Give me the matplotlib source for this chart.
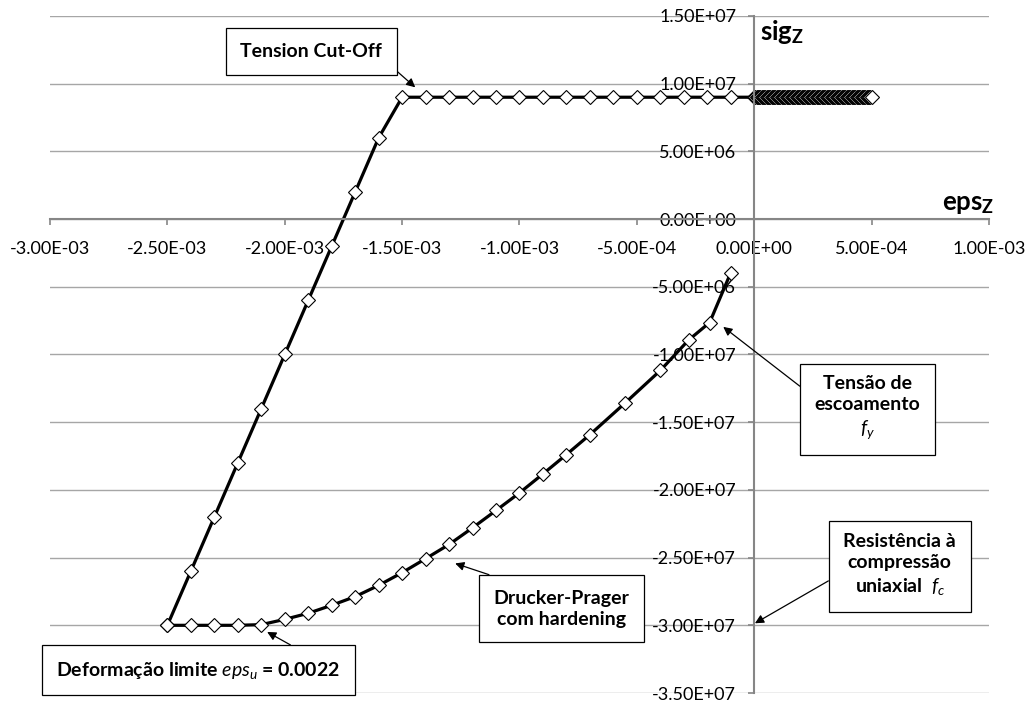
import matplotlib.pyplot as plt
import numpy as np

plt.rcParams['font.family'] = ['Lato', 'DejaVu Sans']
plt.rcParams['mathtext.fontset'] = 'custom'
plt.rcParams['mathtext.rm'] = 'Lato'
plt.rcParams['mathtext.it'] = 'Lato:italic'
plt.rcParams['mathtext.bf'] = 'Lato:bold'

# Tension branch: linear rise, then tension cut-off plateau
rise_eps = [-2.5e-3, -2.4e-3, -2.3e-3, -2.2e-3, -2.1e-3, -2.0e-3,
            -1.9e-3, -1.8e-3, -1.7e-3, -1.6e-3, -1.5e-3]
rise_sig = [-3.0e7, -2.6e7, -2.2e7, -1.8e7, -1.4e7, -1.0e7,
            -6.0e6, -2.0e6, 2.0e6, 6.0e6, 9.0e6]
plateau_eps = [-1.4e-3, -1.3e-3, -1.2e-3, -1.1e-3, -1.0e-3, -0.9e-3, -0.8e-3,
               -0.7e-3, -0.6e-3, -0.5e-3, -0.4e-3, -0.3e-3, -0.2e-3, -0.1e-3]
cutoff_sig = 9.0e6
# dense run of points between 0 and 5E-04 (reads as a solid band)
band_start, band_end, band_count = 0.0, 5.0e-4, 95

# Drucker-Prager with hardening (compression)
dp_eps = [-2.5e-3, -2.4e-3, -2.3e-3, -2.2e-3, -2.1e-3, -2.0e-3, -1.9e-3, -1.8e-3,
          -1.7e-3, -1.6e-3, -1.5e-3, -1.4e-3, -1.3e-3, -1.2e-3, -1.1e-3, -1.0e-3,
          -0.9e-3, -0.8e-3, -0.7e-3, -0.55e-3, -0.4e-3, -0.28e-3, -0.19e-3, -0.1e-3]
dp_sig = [-3.0e7, -3.0e7, -3.0e7, -3.0e7, -2.995e7, -2.956e7, -2.911e7, -2.852e7,
          -2.788e7, -2.705e7, -2.611e7, -2.508e7, -2.403e7, -2.280e7, -2.152e7, -2.022e7,
          -1.882e7, -1.739e7, -1.592e7, -1.358e7, -1.118e7, -8.94e6, -7.64e6, -3.96e6]

x_ticks = [-3.0e-3, -2.5e-3, -2.0e-3, -1.5e-3, -1.0e-3, -5.0e-4, 0.0, 5.0e-4, 1.0e-3]
x_labels = ['-3.00E-03', '-2.50E-03', '-2.00E-03', '-1.50E-03', '-1.00E-03',
            '-5.00E-04', '0.00E+00', '5.00E-04', '1.00E-03']
y_ticks = [-3.5e7, -3.0e7, -2.5e7, -2.0e7, -1.5e7, -1.0e7, -5.0e6, 0.0, 5.0e6, 1.0e7, 1.5e7]
y_labels = ['-3.50E+07', '-3.00E+07', '-2.50E+07', '-2.00E+07', '-1.50E+07', '-1.00E+07',
            '-5.00E+06', '0.00E+00', '5.00E+06', '1.00E+07', '1.50E+07']

band_eps = np.linspace(band_start, band_end, band_count)
tens_eps = np.concatenate([rise_eps, plateau_eps, band_eps])
tens_sig = np.concatenate([rise_sig, np.full(len(plateau_eps) + band_count, cutoff_sig)])

fig = plt.figure(figsize=(10.29, 7.04), dpi=100)
ax = fig.add_axes([0.0486, 0.0156, 0.9125, 0.9617])

mk = dict(marker='D', ms=7.0, mfc='white', mec='black', mew=0.8, color='black', lw=2.3)
ax.plot(tens_eps, tens_sig, **mk)
ax.plot(dp_eps, dp_sig, **mk)

ax.set_xlim(-3e-3, 1e-3)
ax.set_ylim(-3.5e7, 1.5e7)
ax.spines['left'].set_position(('data', 0))
ax.spines['bottom'].set_position(('data', 0))
ax.spines['top'].set_visible(False)
ax.spines['right'].set_visible(False)
for s in ('left', 'bottom'):
    ax.spines[s].set_color('#868686')
    ax.spines[s].set_linewidth(1.5)

ax.set_xticks(x_ticks)
ax.set_xticklabels(x_labels)
ax.set_yticks(y_ticks)
ax.set_yticklabels(y_labels)
ax.tick_params(axis='x', direction='out', length=4.5, width=1.2, color='#868686',
               labelsize=13, pad=11)
ax.tick_params(axis='y', direction='out', length=4.5, width=1.2, color='#868686',
               labelsize=13, pad=8.5)
ax.yaxis.grid(True, color='#a6a6a6', lw=1.0)
ax.set_axisbelow(True)

ax.text(2.5e-5, 1.319e7, r'$\mathbf{sig}_\mathbf{Z}$', fontsize=18.5, va='baseline', ha='left')
ax.text(0.80e-3, 6.6e5, r'$\mathbf{eps}_\mathbf{Z}$', fontsize=18.5, va='baseline', ha='left')

box = dict(boxstyle='square,pad=0.75', fc='white', ec='black', lw=0.9)

def note(text, xy, xytext, relpos):
    ax.annotate(text, xy=xy, xytext=xytext, ha='center', va='center',
                fontsize=14, fontweight='bold', bbox=box, linespacing=1.3,
                arrowprops=dict(arrowstyle='-|>', color='black', lw=0.9,
                                mutation_scale=13, shrinkA=0, shrinkB=0, relpos=relpos))

note('Tension Cut-Off', (-1.444e-3, 9.73e6), (-1.887e-3, 1.238e7), (1.0, 0.1))
note('Tensão de\nescoamento\n$f_y$', (-0.132e-3, -7.96e6), (0.4835e-3, -1.393e7), (0.0, 0.65))
note('Resistência à\ncompressão\nuniaxial  $f_c$', (3e-6, -2.985e7), (0.62e-3, -2.556e7), (0.0, 0.39))
note('Drucker-Prager\ncom hardening', (-1.274e-3, -2.543e7), (-0.822e-3, -2.878e7), (0.3, 1.0))
note('Deformação limite $eps_u$ = 0.0022', (-2.075e-3, -3.049e7), (-2.369e-3, -3.333e7), (0.92, 1.0))

fig.savefig('out.png', dpi=100)
